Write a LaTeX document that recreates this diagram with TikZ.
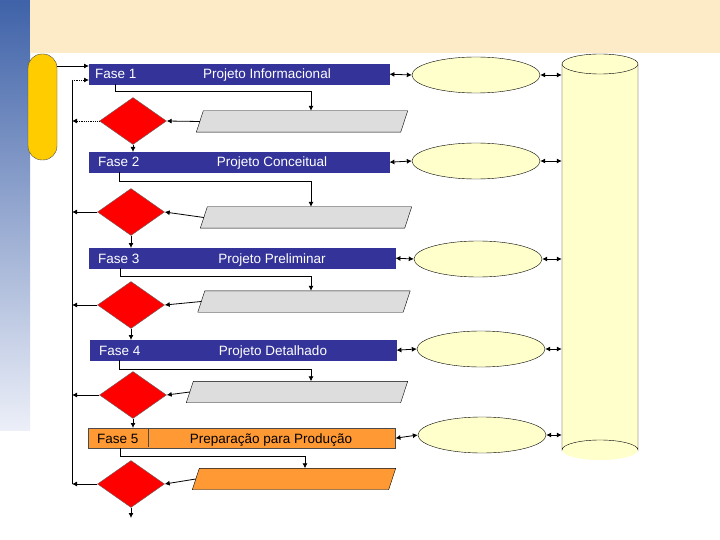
\documentclass[tikz,border=0pt]{standalone}
\usepackage{fontspec}
\setmainfont{Liberation Sans}
\usetikzlibrary{shapes.geometric,arrows.meta}
\definecolor{barblue}{HTML}{333399}
\definecolor{cream}{HTML}{FDEBC8}
\definecolor{pill}{HTML}{FFCC00}
\definecolor{pale}{HTML}{FFFFCC}
\definecolor{orng}{HTML}{FF9933}
\definecolor{gry}{HTML}{DDDDDD}
\definecolor{sidetop}{HTML}{3F62A8}
\definecolor{sidebot}{HTML}{ECEFF8}
\begin{document}
\begin{tikzpicture}[x=1pt,y=-1pt,
  bar/.style={rectangle,draw=barblue,fill=barblue,minimum height=20pt,inner sep=0,anchor=north west},
  obar/.style={bar,fill=orng,draw=black!70},
  dia/.style={diamond,draw=black!60,fill=red,minimum width=67pt,minimum height=47pt,inner sep=0},
  pbox/.style={rectangle,minimum height=21pt,inner sep=0},
  ell/.style={ellipse,draw=black,fill=pale,minimum width=128pt,minimum height=36pt,inner sep=0},
  lbl/.style={text=white,font=\fontsize{13.5}{15}\selectfont,inner sep=0,anchor=base},
  ar/.style={-{Latex[length=5pt,width=5pt]},thick},
  dar/.style={{Latex[length=5pt,width=5pt]}-{Latex[length=5pt,width=5pt]},thick}]
\useasboundingbox (0,0) rectangle (720,540);
\fill[white] (0,0) rectangle (720,540);
\shade[top color=sidetop,bottom color=sidebot] (0,0) rectangle (30,430);
\fill[cream] (30,0) rectangle (720,53);
\node[draw=black!70,fill=pill,rounded corners=14pt,minimum width=29pt,minimum height=106pt,inner sep=0] (pill) at (42.5,107) {};
% bars
\node[bar,minimum width=300pt] (b1) at (89,64) {};
\node[bar,minimum width=300pt] (b2) at (89,152) {};
\node[bar,minimum width=306pt] (b3) at (89,248) {};
\node[bar,minimum width=306pt] (b4) at (90,340) {};
\node[obar,minimum width=307pt] (b5) at (88,428) {};
\draw[black!70] (148,428) -- (148,447);
\node[lbl,anchor=base west] (f1) at (95,79) {Fase 1};
\node[lbl] (t1) at (267,79) {Projeto Informacional};
\node[lbl,anchor=base west] (f2) at (98,167) {Fase 2};
\node[lbl] (t2) at (272,167) {Projeto Conceitual};
\node[lbl,anchor=base west] (f3) at (98,263) {Fase 3};
\node[lbl] (t3) at (272,263) {Projeto Preliminar};
\node[lbl,anchor=base west] (f4) at (99,355) {Fase 4};
\node[lbl] (t4) at (273,355) {Projeto Detalhado};
\node[lbl,anchor=base west,text=black] (f5) at (97,443) {Fase 5};
\node[lbl,text=black] (t5) at (271,443) {Preparação para Produção};
% diamonds
\node[dia] (d1) at (133,121) {};
\node[dia] (d2) at (131,212) {};
\node[dia] (d3) at (131,305) {};
\node[dia] (d4) at (133,395) {};
\node[dia] (d5) at (131,484) {};
% parallelograms
\foreach \n/\cx/\cy/\w/\c in {p1/302/121.5/211/gry,p2/306/217.5/211/gry,p3/304/301.5/212/gry,p4/297/392/221/gry,p5/294/479/203/orng}{
  \node[pbox,minimum width=\w pt-7pt] (\n) at (\cx,\cy) {};
  \draw[fill=\c] ([xshift=-3.5pt]\n.south west) -- ([xshift=3.5pt]\n.north west) -- ([xshift=3.5pt]\n.north east) -- ([xshift=-3.5pt]\n.south east) -- cycle;
}
% ellipses
\node[ell] (e1) at (476,75) {};
\node[ell] (e2) at (476,161) {};
\node[ell] (e3) at (478,259) {};
\node[ell] (e4) at (481,349) {};
\node[ell] (e5) at (482,435) {};
% cylinder
\fill[pale] (562,64) rectangle (638,450);
\fill[pale] (600,450) ellipse (38 and 10);
\draw (562,64) -- (562,450) arc (180:360:38 and 10) -- (638,64);
\draw[fill=pale] (600,64) ellipse (38 and 10);
\node[inner sep=0,minimum width=76pt,minimum height=396pt] (db) at (600,257) {};
% left spine
\coordinate (top) at (72,80);
\coordinate (bot) at (72,484);
\draw[thick] (top) -- (bot);
\draw[ar] (pill.east |- 0,66) -- (b1.west |- 0,66);
\draw[ar,densely dotted] (top) -- (b1.west |- top);
% flows
\foreach \i/\x/\y/\tx in {1/115/91/311,2/119/181/311,3/120/276/311,4/119/369/311,5/120/456/305}{
  \draw[ar] (\x,\y) coordinate (s\i) -| (p\i.north -| \tx,0);
  \draw[thick] (b\i.south -| s\i) -- (s\i);
  \draw[ar] (p\i.west) -- (d\i.east);
  \draw[dar] (b\i.east) -- (e\i.west);
  \draw[dar] (e\i.east) -- (db.west |- e\i);
}
\draw[ar,densely dotted] (d1.west) -- (d1.west -| top);
\foreach \i in {2,3,4,5}{\draw[ar] (d\i.west) -- (d\i.west -| top);}
\draw[ar] (d1.south) -- (b2.north -| d1.south);
\draw[ar] (d2.south) -- (b3.north -| d2.south);
\draw[ar] (d3.south) -- (b4.north -| d3.south);
\draw[ar] (d4.south) -- (b5.north -| d4.south);
\coordinate (end) at (131,518);
\draw[ar] (d5.south) -- (end);
\end{tikzpicture}
\end{document}
